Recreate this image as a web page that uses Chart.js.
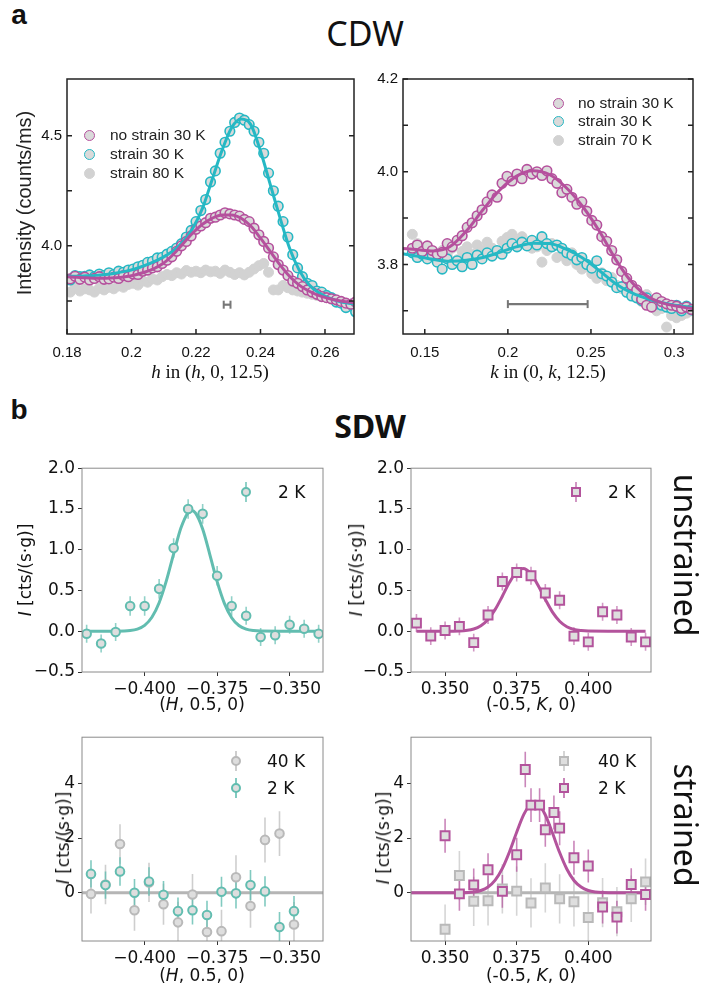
<!DOCTYPE html>
<html>
<head>
<meta charset="utf-8">
<script src="https://cdn.jsdelivr.net/npm/chart.js@4.4.1/dist/chart.umd.min.js"></script>
<style>
  body { margin: 0; background: #fff; width: 718px; height: 987px; position: relative; overflow: hidden; font-family: 'Liberation Sans', Arial, sans-serif; }
  .box { position: absolute; }
  .t { position: absolute; white-space: nowrap; color: #111; line-height: 1; }
</style>
</head>
<body>
<div id="aL" class="box"><canvas></canvas></div>
<div id="aR" class="box"><canvas></canvas></div>
<div id="bUL" class="box"><canvas></canvas></div>
<div id="bUR" class="box"><canvas></canvas></div>
<div id="bLL" class="box"><canvas></canvas></div>
<div id="bLR" class="box"><canvas></canvas></div>
<div id="labels"></div>
<script>
// ---- panel a, left: scan along h in (h, 0, 12.5) ----
const hScan = [0.1810,0.1825,0.1840,0.1855,0.1870,0.1885,0.1900,0.1915,0.1930,0.1945,0.1960,0.1975,0.1990,0.2005,0.2020,0.2035,0.2050,0.2065,0.2080,0.2095,0.2110,0.2125,0.2140,0.2155,0.2170,0.2185,0.2200,0.2215,0.2230,0.2245,0.2260,0.2275,0.2290,0.2305,0.2320,0.2335,0.2350,0.2365,0.2380,0.2395,0.2410,0.2425,0.2440,0.2455,0.2470,0.2485,0.2500,0.2515,0.2530,0.2545,0.2560,0.2575,0.2590,0.2605,0.2620,0.2635,0.2650,0.2665,0.2680,0.2695];
const hNoStrain30 = [3.850,3.862,3.848,3.858,3.845,3.852,3.860,3.848,3.850,3.858,3.852,3.865,3.860,3.872,3.870,3.885,3.890,3.900,3.905,3.920,3.935,3.950,3.975,4.000,4.020,4.045,4.075,4.090,4.105,4.125,4.130,4.140,4.150,4.145,4.140,4.135,4.120,4.110,4.080,4.050,4.020,3.990,3.950,3.915,3.890,3.865,3.840,3.830,3.815,3.800,3.790,3.780,3.770,3.765,3.760,3.755,3.748,3.740,3.735,3.745];
const hStrain30 = [3.845,3.865,3.860,3.862,3.868,3.860,3.872,3.865,3.878,3.870,3.885,3.880,3.890,3.895,3.905,3.912,3.925,3.930,3.945,3.948,3.962,3.975,3.990,4.010,4.040,4.070,4.110,4.160,4.210,4.290,4.340,4.420,4.470,4.520,4.560,4.580,4.570,4.550,4.520,4.470,4.420,4.330,4.250,4.180,4.110,4.040,3.960,3.900,3.860,3.830,3.820,3.795,3.790,3.775,3.765,3.745,3.740,3.720,3.735,3.700];
const hStrain80 = [3.790,3.810,3.795,3.805,3.800,3.790,3.808,3.800,3.812,3.805,3.818,3.812,3.825,3.830,3.822,3.840,3.835,3.850,3.845,3.860,3.870,3.865,3.878,3.872,3.888,3.880,3.885,3.878,3.890,3.882,3.885,3.875,3.890,3.880,3.870,3.878,3.868,3.880,3.895,3.910,3.920,3.880,3.800,3.800,3.820,3.810,3.800,3.795,3.790,3.785,3.780,3.775,3.770,3.765,3.758,3.750,3.745,3.740,3.735,3.735];
const hFit = [0.180,0.183,0.186,0.189,0.192,0.195,0.198,0.201,0.204,0.207,0.210,0.213,0.216,0.219,0.222,0.225,0.228,0.231,0.234,0.237,0.240,0.243,0.246,0.249,0.252,0.255,0.258,0.261,0.264,0.267,0.270];
const hFitNoStrain = [3.860,3.857,3.855,3.853,3.853,3.855,3.860,3.868,3.880,3.897,3.922,3.962,4.010,4.058,4.098,4.125,4.140,4.140,4.125,4.090,4.035,3.975,3.915,3.862,3.822,3.795,3.775,3.762,3.752,3.745,3.740];
const hFitStrain = [3.862,3.862,3.864,3.866,3.870,3.876,3.884,3.895,3.910,3.928,3.950,3.978,4.020,4.080,4.170,4.300,4.430,4.535,4.575,4.550,4.430,4.280,4.130,3.990,3.890,3.825,3.788,3.765,3.750,3.740,3.735];
const hRes = [0.2286, 0.2307], hResY = 3.733;
const hTicks = [0.18, 0.20, 0.22, 0.24, 0.26];
const hYTicks = [3.75, 4.0, 4.25, 4.5];
const hYLabels = [4.0, 4.5];

// ---- panel a, right: scan along k in (0, k, 12.5) ----
const kScan = [0.1425,0.1455,0.1485,0.1515,0.1545,0.1575,0.1605,0.1635,0.1665,0.1695,0.1725,0.1755,0.1785,0.1815,0.1845,0.1875,0.1905,0.1935,0.1965,0.1995,0.2025,0.2055,0.2085,0.2115,0.2145,0.2175,0.2205,0.2235,0.2265,0.2295,0.2325,0.2355,0.2385,0.2415,0.2445,0.2475,0.2505,0.2535,0.2565,0.2595,0.2625,0.2655,0.2685,0.2715,0.2745,0.2775,0.2805,0.2835,0.2865,0.2895,0.2925,0.2955,0.2985,0.3015,0.3045,0.3075,0.3105];
const kNoStrain30 = [3.835,3.842,3.828,3.840,3.830,3.822,3.826,3.845,3.838,3.852,3.862,3.880,3.890,3.905,3.918,3.935,3.950,3.945,3.975,3.990,3.980,3.995,3.985,4.005,3.995,4.000,3.992,4.002,3.985,3.975,3.955,3.962,3.945,3.930,3.935,3.915,3.895,3.885,3.860,3.850,3.830,3.810,3.785,3.770,3.755,3.745,3.725,3.712,3.708,3.728,3.720,3.715,3.712,3.710,3.705,3.708,3.703];
const kStrain30 = [3.825,3.815,3.822,3.812,3.820,3.805,3.790,3.812,3.800,3.808,3.795,3.815,3.800,3.820,3.812,3.825,3.818,3.830,3.822,3.835,3.845,3.838,3.848,3.840,3.852,3.842,3.860,3.845,3.838,3.842,3.835,3.825,3.820,3.810,3.815,3.800,3.792,3.808,3.780,3.775,3.762,3.750,3.752,3.740,3.732,3.728,3.722,3.728,3.720,3.715,3.712,3.708,3.705,3.712,3.700,3.710,3.702];
const kStrain70 = [3.865,3.845,3.830,3.838,3.825,3.815,3.830,3.820,3.835,3.810,3.828,3.838,3.822,3.842,3.830,3.848,3.835,3.825,3.850,3.858,3.865,3.850,3.860,3.842,3.835,3.838,3.805,3.830,3.845,3.815,3.820,3.808,3.825,3.800,3.790,3.795,3.780,3.770,3.782,3.765,3.772,3.755,3.748,3.758,3.740,3.730,3.720,3.735,3.710,3.700,3.705,3.665,3.690,3.685,3.690,3.695,3.700];
const kFit = [0.135,0.145,0.155,0.165,0.175,0.185,0.195,0.205,0.215,0.225,0.235,0.245,0.255,0.265,0.275,0.285,0.295,0.305,0.315];
const kFitNoStrain = [3.835,3.832,3.829,3.838,3.872,3.918,3.960,3.990,4.002,3.994,3.966,3.925,3.872,3.810,3.760,3.729,3.715,3.708,3.703];
const kFitStrain = [3.824,3.818,3.811,3.807,3.809,3.815,3.826,3.838,3.846,3.845,3.833,3.814,3.787,3.758,3.738,3.725,3.716,3.710,3.706];
const kRes = [0.200, 0.248], kResY = 3.7145;
const kTicks = [0.15, 0.20, 0.25, 0.30];
const kYTicks = [3.7, 3.8, 3.9, 4.0, 4.1, 4.2];
const kYLabels = [3.8, 4.0, 4.2];

// ---- panel b, unstrained ----
const H_un = [-0.420,-0.415,-0.410,-0.405,-0.400,-0.395,-0.390,-0.385,-0.380,-0.375,-0.370,-0.365,-0.360,-0.355,-0.350,-0.345,-0.340];
const I_H_un = [-0.03,-0.15,-0.01,0.31,0.31,0.52,1.02,1.50,1.44,0.68,0.31,0.19,-0.07,-0.05,0.08,0.03,-0.03];
const E_H_un = [0.11,0.11,0.11,0.12,0.12,0.12,0.12,0.12,0.12,0.12,0.12,0.11,0.11,0.11,0.11,0.11,0.11];
const H_unFit = [-0.420,-0.410,-0.405,-0.4025,-0.400,-0.3975,-0.395,-0.3925,-0.390,-0.3875,-0.385,-0.3838,-0.3825,-0.380,-0.3775,-0.375,-0.3725,-0.370,-0.3675,-0.365,-0.3625,-0.360,-0.350,-0.340];
const I_H_unFit = [0,0.001,0.009,0.027,0.073,0.172,0.35,0.62,0.95,1.265,1.456,1.48,1.451,1.254,0.938,0.608,0.342,0.166,0.070,0.026,0.008,0.002,0,0];
const K_un = [0.340,0.345,0.350,0.355,0.360,0.365,0.370,0.375,0.380,0.385,0.390,0.395,0.400,0.405,0.410,0.415,0.420];
const I_K_un = [0.10,-0.06,0.01,0.06,-0.14,0.20,0.61,0.72,0.68,0.47,0.38,-0.06,-0.13,0.24,0.20,-0.07,-0.13];
const E_K_un = [0.11,0.11,0.11,0.11,0.11,0.11,0.11,0.11,0.11,0.11,0.11,0.11,0.11,0.11,0.11,0.11,0.11];
const K_unFit = [0.340,0.350,0.355,0.360,0.3625,0.365,0.3675,0.370,0.3725,0.375,0.3772,0.380,0.3825,0.385,0.3875,0.390,0.3925,0.395,0.3975,0.400,0.410,0.420];
const I_K_unFit = [0,0,0.003,0.028,0.068,0.145,0.268,0.43,0.60,0.73,0.77,0.705,0.56,0.39,0.234,0.122,0.055,0.022,0.008,0.002,0,0];

// ---- panel b, strained ----
const H_st = [-0.4185,-0.4135,-0.4085,-0.4035,-0.3985,-0.3935,-0.3885,-0.3835,-0.3785,-0.3735,-0.3685,-0.3635,-0.3585,-0.3535,-0.3485];
const I_H_st2 = [0.69,0.28,0.78,0.00,0.41,-0.07,-0.67,-0.64,-0.81,0.04,-0.02,0.28,0.05,-1.25,-0.67];
const E_H_st2 = [0.50,0.50,0.52,0.50,0.52,0.50,0.50,0.52,0.52,0.55,0.55,0.55,0.55,0.55,0.55];
const I_H_st40 = [-0.04,0.30,1.78,-0.64,0.38,-0.42,-1.08,-0.06,-1.43,-1.40,0.57,-0.48,1.93,2.16,-1.16];
const E_H_st40 = [0.72,0.72,0.72,0.75,0.72,0.75,0.75,0.75,0.78,0.78,0.80,0.80,0.82,0.82,0.82];
const K_st2 = [0.350,0.355,0.360,0.365,0.370,0.375,0.378,0.380,0.383,0.385,0.388,0.390,0.395,0.400,0.405,0.410,0.415,0.420];
const I_K_st2 = [2.08,-0.04,0.29,0.84,0.05,1.39,4.50,3.20,3.20,2.30,2.93,2.36,1.28,0.98,-0.52,-0.89,0.30,-0.06];
const E_K_st2 = [0.62,0.62,0.60,0.60,0.60,0.62,0.65,0.62,0.62,0.62,0.62,0.62,0.62,0.60,0.60,0.60,0.60,0.60];
const K_st40 = [0.350,0.355,0.360,0.365,0.370,0.375,0.380,0.385,0.390,0.395,0.400,0.405,0.410,0.415,0.420];
const I_K_st40 = [-1.33,0.63,-0.31,-0.29,0.14,0.06,-0.37,0.18,-0.22,-0.33,-0.90,-0.36,-0.69,-0.22,0.40];
const E_K_st40 = [0.90,0.90,0.90,0.90,0.90,0.90,0.90,0.90,0.90,0.90,0.90,0.90,0.90,0.85,0.85];
const K_stFit = [0.338,0.350,0.355,0.360,0.3625,0.365,0.3675,0.370,0.3725,0.375,0.3775,0.380,0.3812,0.3825,0.385,0.3875,0.390,0.3925,0.395,0.3975,0.400,0.4025,0.405,0.410,0.422];
const I_K_stFit = [0,0,0.003,0.03,0.085,0.21,0.46,0.89,1.50,2.21,2.86,3.25,3.30,3.24,2.84,2.18,1.47,0.87,0.45,0.21,0.083,0.029,0.009,0,0];
const H_flat = [-0.43, -0.33], K_flat = [0.33, 0.43], I_flat = [0, 0];

const H_ticks = [-0.400, -0.375, -0.350];
const K_ticks = [0.350, 0.375, 0.400];
const I_unTicks = [-0.5, 0.0, 0.5, 1.0, 1.5, 2.0];
const I_stTicks = [0, 2, 4];

// colours
const cMag = '#b5509d', cTeal = '#25b8c4', cGray = '#d2d2d2', cRing = '#dadada';
const sTeal = '#62bdb0', sMag = '#b3539c', sGray = '#b9b9b9', sFill = '#dedede';

// frame + inward ticks
const frame = {
  id: 'frame',
  afterDraw(chart, args, opts) {
    const {ctx, chartArea: a, scales} = chart;
    ctx.save();
    ctx.strokeStyle = opts.color || '#888';
    ctx.lineWidth = opts.width || 1;
    ctx.strokeRect(a.left, a.top, a.right - a.left, a.bottom - a.top);
    if (opts.inX) {
      ctx.beginPath();
      for (const v of opts.inX) {
        const px = scales.x.getPixelForValue(v);
        ctx.moveTo(px, a.bottom); ctx.lineTo(px, a.bottom - 5);
      }
      for (const v of opts.inY) {
        const py = scales.y.getPixelForValue(v);
        ctx.moveTo(a.left, py); ctx.lineTo(a.left + 5, py);
        ctx.moveTo(a.right, py); ctx.lineTo(a.right - 5, py);
      }
      ctx.stroke();
    }
    ctx.restore();
  }
};
Chart.register(frame);

const xy = (xs, ys) => xs.map((x, i) => ({x, y: ys[i]}));
const bars = (xs, ys, es) => xs.flatMap((x, i) => [{x, y: ys[i] - es[i]}, {x, y: ys[i] + es[i]}, {x, y: null}]);

function dots(xs, ys, color, fill, style, r, bw, order) {
  return {data: xy(xs, ys), showLine: false, pointStyle: style, pointRadius: r, borderWidth: bw,
    borderColor: color, backgroundColor: fill, order};
}
function curve(xs, ys, color, w, order) {
  return {data: xy(xs, ys), showLine: true, pointRadius: 0, borderColor: color, borderWidth: w,
    cubicInterpolationMode: 'monotone', fill: false, order};
}
function errs(xs, ys, es, color, order) {
  return {data: bars(xs, ys, es), showLine: true, spanGaps: false, pointRadius: 0,
    borderColor: color, borderWidth: 1.6, order};
}
function resBar(xs, y) {
  return [
    {data: xy(xs, [y, y]), showLine: true, pointRadius: 0, borderColor: '#777', borderWidth: 2.2, order: 0},
    {data: xy(xs, [y, y]), showLine: false, pointStyle: 'line', rotation: 90, pointRadius: 4,
      borderColor: '#777', borderWidth: 2, order: 0}
  ];
}

const cdwTick = {family: 'Liberation Sans', size: 15};
const sdwTick = {family: 'DejaVu Sans', size: 17};
const fmtTrim = v => String(+v.toFixed(2));
const minus = s => s.replace('-', '\u2212');

function axis(kind, min, max, vals, fmt, pad, fit) {
  const cdw = kind === 'cdw';
  return {
    type: 'linear', min, max,
    grid: cdw ? {display: false, drawTicks: false}
              : {display: true, drawOnChartArea: false, drawTicks: true, tickLength: 4, tickColor: '#333', tickWidth: 1},
    border: {display: false},
    ticks: {font: cdw ? cdwTick : sdwTick, color: '#111', padding: pad, autoSkip: false,
      maxRotation: 0, minRotation: 0, callback: v => fmt(v)},
    afterBuildTicks: s => { s.ticks = vals.map(v => ({value: v})); },
    afterFit: fit
  };
}

function panel(id, area, c) {
  const yw = 50, xh = 30, pt = 12, pr = 14;
  const el = document.getElementById(id);
  el.style.left = (area.l - yw) + 'px';
  el.style.top = (area.t - pt) + 'px';
  el.style.width = (area.r - area.l + yw + pr) + 'px';
  el.style.height = (area.b - area.t + pt + xh) + 'px';
  new Chart(el.querySelector('canvas'), {
    type: 'scatter',
    data: {datasets: c.datasets},
    options: {
      responsive: true, maintainAspectRatio: false, animation: false,
      layout: {padding: {top: pt, right: pr, left: 0, bottom: 0}},
      plugins: {legend: {display: false}, tooltip: {enabled: false}, frame: c.frame},
      scales: {
        x: axis(c.kind, c.x[0], c.x[1], c.xTicks, c.xFmt, c.kind === 'cdw' ? 10 : 3, s => { s.height = xh; }),
        y: axis(c.kind, c.y[0], c.y[1], c.yTicks, c.yFmt, c.kind === 'cdw' ? 5 : 3, s => { s.width = yw; })
      }
    }
  });
}

panel('aL', {l: 67, t: 77, r: 354, b: 334}, {
  kind: 'cdw', x: [0.18, 0.269], y: [3.6, 4.757],
  xTicks: hTicks, xFmt: fmtTrim,
  yTicks: hYTicks, yFmt: v => hYLabels.includes(v) ? v.toFixed(1) : '',
  frame: {color: '#222', width: 1.5, inX: hTicks, inY: hYTicks},
  datasets: [
    curve(hFit, hFitNoStrain, cMag, 3, 1),
    curve(hFit, hFitStrain, cTeal, 3, 2),
    dots(hScan, hNoStrain30, cMag, cRing, 'circle', 4.8, 1.6, 3),
    dots(hScan, hStrain30, cTeal, cRing, 'circle', 4.8, 1.6, 4),
    dots(hScan, hStrain80, cGray, cGray, 'circle', 5, 1, 5),
    ...resBar(hRes, hResY)
  ]
});

panel('aR', {l: 403, t: 77, r: 693, b: 334}, {
  kind: 'cdw', x: [0.1369, 0.3114], y: [3.65, 4.2],
  xTicks: kTicks, xFmt: fmtTrim,
  yTicks: kYTicks, yFmt: v => kYLabels.some(l => Math.abs(l - v) < 1e-6) ? v.toFixed(1) : '',
  frame: {color: '#222', width: 1.5, inX: kTicks, inY: kYTicks},
  datasets: [
    curve(kFit, kFitNoStrain, cMag, 3, 1),
    curve(kFit, kFitStrain, cTeal, 3, 2),
    dots(kScan, kNoStrain30, cMag, cRing, 'circle', 4.8, 1.6, 3),
    dots(kScan, kStrain30, cTeal, cRing, 'circle', 4.8, 1.6, 4),
    dots(kScan, kStrain70, cGray, cGray, 'circle', 5, 1, 5),
    ...resBar(kRes, kResY)
  ]
});

const fmt3 = v => minus(v.toFixed(3));
const fmt1 = v => minus(v.toFixed(1));
const fmt0 = v => minus(v.toFixed(0));

panel('bUL', {l: 82, t: 467, r: 323, b: 672}, {
  kind: 'sdw', x: [-0.4216, -0.3385], y: [-0.5, 2.0],
  xTicks: H_ticks, xFmt: fmt3, yTicks: I_unTicks, yFmt: fmt1,
  frame: {color: '#8a8a8a', width: 1},
  datasets: [
    dots(H_un, I_H_un, sTeal, sFill, 'circle', 4.3, 2, 1),
    curve(H_unFit, I_H_unFit, sTeal, 3, 2),
    errs(H_un, I_H_un, E_H_un, 'rgba(98,189,176,0.7)', 3)
  ]
});

panel('bUR', {l: 411, t: 467, r: 651, b: 672}, {
  kind: 'sdw', x: [0.3381, 0.4219], y: [-0.5, 2.0],
  xTicks: K_ticks, xFmt: fmt3, yTicks: I_unTicks, yFmt: fmt1,
  frame: {color: '#8a8a8a', width: 1},
  datasets: [
    dots(K_un, I_K_un, sMag, sFill, 'rect', 6.3, 2, 1),
    curve(K_unFit, I_K_unFit, sMag, 3, 2),
    errs(K_un, I_K_un, E_K_un, 'rgba(179,83,156,0.6)', 3)
  ]
});

panel('bLL', {l: 82, t: 736, r: 323, b: 941}, {
  kind: 'sdw', x: [-0.4216, -0.3385], y: [-1.76, 5.68],
  xTicks: H_ticks, xFmt: fmt3, yTicks: I_stTicks, yFmt: fmt0,
  frame: {color: '#8a8a8a', width: 1},
  datasets: [
    dots(H_st, I_H_st2, sTeal, sFill, 'circle', 4.3, 2, 1),
    dots(H_st, I_H_st40, sGray, sFill, 'circle', 4.3, 2, 2),
    errs(H_st, I_H_st2, E_H_st2, 'rgba(98,189,176,0.8)', 3),
    errs(H_st, I_H_st40, E_H_st40, 'rgba(185,185,185,0.7)', 4),
    curve(H_flat, I_flat, '#b5b5b5', 3, 5)
  ]
});

panel('bLR', {l: 411, t: 736, r: 651, b: 941}, {
  kind: 'sdw', x: [0.3381, 0.4219], y: [-1.76, 5.68],
  xTicks: K_ticks, xFmt: fmt3, yTicks: I_stTicks, yFmt: fmt0,
  frame: {color: '#8a8a8a', width: 1},
  datasets: [
    dots(K_st2, I_K_st2, sMag, sFill, 'rect', 6.3, 2, 1),
    dots(K_st40, I_K_st40, sGray, sFill, 'rect', 6.3, 2, 2),
    curve(K_stFit, I_K_stFit, sMag, 3, 3),
    errs(K_st2, I_K_st2, E_K_st2, 'rgba(179,83,156,0.7)', 4),
    errs(K_st40, I_K_st40, E_K_st40, 'rgba(185,185,185,0.6)', 5),
    curve(K_flat, I_flat, '#b5b5b5', 3, 6)
  ]
});

// ---- text and legends ----
const root = document.getElementById('labels');
function text(html, x, y, css, rot) {
  const d = document.createElement('div');
  d.className = 't';
  d.innerHTML = html;
  d.style.cssText = css + `;left:${x}px;top:${y}px;transform:translate(-50%,-50%)` + (rot ? ` rotate(${rot}deg)` : '');
  root.appendChild(d);
}
function leftText(html, x, y, css) {
  const d = document.createElement('div');
  d.className = 't';
  d.innerHTML = html;
  d.style.cssText = css + `;left:${x}px;top:${y}px;transform:translateY(-50%)`;
  root.appendChild(d);
}
function marker(x, y, o) {
  if (o.bar) {
    const b = document.createElement('div');
    b.className = 't';
    b.style.cssText = `left:${x - 0.8}px;top:${y - o.bar}px;width:1.6px;height:${2 * o.bar}px;background:${o.barColor}`;
    root.appendChild(b);
  }
  const d = document.createElement('div');
  d.className = 't';
  const s = o.size;
  d.style.cssText = `left:${x - s / 2}px;top:${y - s / 2}px;width:${s}px;height:${s}px;box-sizing:border-box;` +
    `border:${o.bw}px solid ${o.color};background:${o.fill};border-radius:${o.round ? '50%' : '0'}`;
  root.appendChild(d);
}

text('a', 19, 15, "font:bold 28px 'Liberation Sans'");
text('b', 19, 410, "font:bold 28px 'Liberation Sans'");
text('CDW', 365, 33, "font:34px 'Noto Sans'");
text('SDW', 370, 425, "font:bold 32px 'Noto Sans'");
text('unstrained', 686, 555, "font:32px 'Noto Sans'", 90);
text('strained', 686, 825, "font:32px 'Noto Sans'", 90);

const serif = "font:19px 'Liberation Serif'";
text('Intensity (counts/ms)', 24, 203, "font:20px 'Liberation Sans';color:#222", -90);
text('<i>h</i> in (<i>h</i>, 0, 12.5)', 210, 372, serif);
text('<i>k</i> in (0, <i>k</i>, 12.5)', 548, 372, serif);

const dj = "font:17px 'DejaVu Sans'";
const yTitle = '<i>I</i> [cts/(s·g)]';
text(yTitle, 25, 570, dj, -90);
text(yTitle, 356, 570, dj, -90);
text(yTitle, 63, 838, dj, -90);
text(yTitle, 383, 838, dj, -90);
text('(<i>H</i>, 0.5, 0)', 202, 704, dj);
text('(-0.5, <i>K</i>, 0)', 531, 704, dj);
text('(<i>H</i>, 0.5, 0)', 202, 975, dj);
text('(-0.5, <i>K</i>, 0)', 531, 975, dj);

// CDW legends
const lg = "font:15.5px 'Liberation Sans';color:#222";
const ring = (x, y, c) => marker(x, y, {size: 11, bw: 1.6, color: c, fill: cRing, round: true});
ring(89, 135, cMag); leftText('no strain 30 K', 110, 135, lg);
ring(89, 154, cTeal); leftText('strain 30 K', 110, 154, lg);
marker(89, 173, {size: 11, bw: 1, color: cGray, fill: cGray, round: true}); leftText('strain 80 K', 110, 173, lg);
ring(558, 103, cMag); leftText('no strain 30 K', 578, 103, lg);
ring(558, 121, cTeal); leftText('strain 30 K', 578, 121, lg);
marker(558, 140, {size: 11, bw: 1, color: cGray, fill: cGray, round: true}); leftText('strain 70 K', 578, 140, lg);

// SDW legends
marker(246, 492, {size: 10.5, bw: 2, color: sTeal, fill: sFill, round: true, bar: 10, barColor: 'rgba(98,189,176,0.7)'});
leftText('2 K', 278, 492, dj);
marker(576, 492, {size: 9.5, bw: 2, color: sMag, fill: sFill, bar: 10, barColor: 'rgba(179,83,156,0.6)'});
leftText('2 K', 608, 492, dj);
marker(236, 761, {size: 10.5, bw: 2, color: sGray, fill: sFill, round: true, bar: 10, barColor: 'rgba(185,185,185,0.7)'});
leftText('40 K', 267, 761, dj);
marker(236, 788, {size: 10.5, bw: 2, color: sTeal, fill: sFill, round: true, bar: 10, barColor: 'rgba(98,189,176,0.8)'});
leftText('2 K', 267, 788, dj);
marker(564, 761, {size: 9.5, bw: 2, color: sGray, fill: sFill, bar: 10, barColor: 'rgba(185,185,185,0.6)'});
leftText('40 K', 598, 761, dj);
marker(564, 788, {size: 9.5, bw: 2, color: sMag, fill: sFill, bar: 10, barColor: 'rgba(179,83,156,0.7)'});
leftText('2 K', 598, 788, dj);
</script>
</body>
</html>
